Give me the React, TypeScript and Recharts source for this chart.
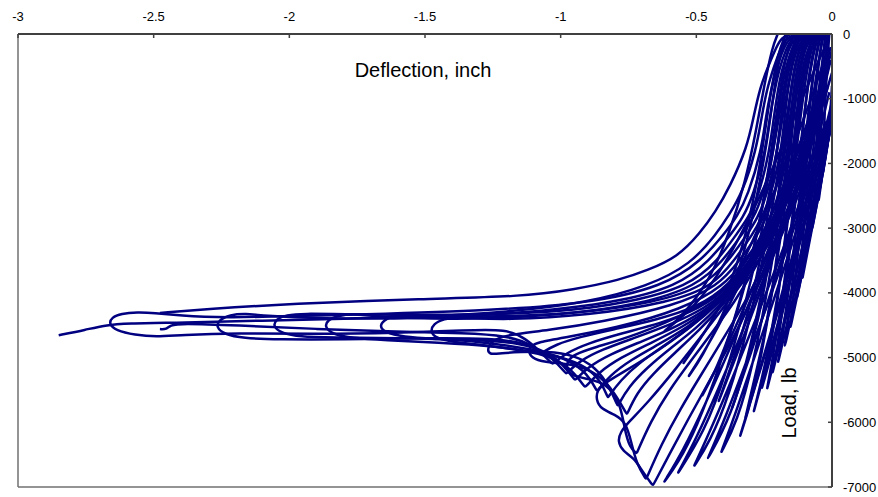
import React from "react";
import { LineChart, Line, XAxis, YAxis, ReferenceLine } from "recharts";

type P = [number, number | null];

const xTicks = [-3, -2.5, -2, -1.5, -1, -0.5, 0];
const yTicks = [0, -1000, -2000, -3000, -4000, -5000, -6000, -7000];

// post-peak cycles (loading, plateau loop, return, cusp, unloading arm)
const c01: P[] = [[-0.12,0],[-0.155,-50],[-0.18,-230],[-0.205,-540],[-0.225,-870],[-0.245,-1300],[-0.26,-1800],[-0.31,-2500],[-0.35,-2820],[-0.395,-3080],[-0.48,-3500],[-0.62,-3900],[-0.9,-4170],[-1.3,-4280],[-1.8,-4340],[-2.26,-4390],[-2.4,-4350],[-2.5,-4310],[-2.56,-4300],[-2.62,-4320],[-2.655,-4380],[-2.665,-4480],[-2.64,-4580],[-2.57,-4650],[-2.49,-4680],[-2.4,-4650],[-2.2,-4620],[-1.9,-4640],[-1.6,-4620],[-1.35,-4580],[-1.2,-4560],[-1.13,-4700],[-1.07,-4930],[-1.07,-4930],[-1.02,-4800],[-0.93,-4680],[-0.8,-4560],[-0.65,-4420],[-0.5,-4230],[-0.38,-3900],[-0.28,-3300],[-0.2,-2600],[-0.13,-1900],[-0.07,-1200],[-0.03,-600],[-0.005,-200]];
const c02: P[] = [[-0.15,0],[-0.185,-50],[-0.205,-200],[-0.235,-500],[-0.265,-820],[-0.29,-1300],[-0.313,-1750],[-0.376,-2360],[-0.43,-2750],[-0.487,-3080],[-0.57,-3450],[-0.68,-3650],[-0.78,-3800],[-0.95,-3950],[-1.15,-4060],[-1.5,-4090],[-2.0,-4170],[-2.3,-4250],[-2.477,-4310],[-2.477,null],[-2.477,-4560],[-2.452,-4565],[-2.44,-4500],[-2.4,-4470],[-2.2,-4500],[-1.9,-4560],[-1.6,-4600],[-1.35,-4620],[-1.2,-4660],[-1.1,-4800],[-1.03,-5100],[-1.03,-5100],[-0.98,-4930],[-0.9,-4780],[-0.78,-4630],[-0.63,-4470],[-0.49,-4250],[-0.37,-3900],[-0.27,-3300],[-0.19,-2600],[-0.12,-1900],[-0.065,-1200],[-0.025,-600],[0,-250]];
const c03: P[] = [[-0.13,0],[-0.165,-50],[-0.19,-220],[-0.215,-520],[-0.24,-850],[-0.26,-1300],[-0.28,-1800],[-0.33,-2450],[-0.38,-2800],[-0.424,-3080],[-0.52,-3560],[-0.68,-3900],[-0.9,-4150],[-1.2,-4300],[-1.5,-4370],[-1.8,-4400],[-2.1,-4430],[-2.4,-4460],[-2.6,-4470],[-2.68,-4500],[-2.75,-4570],[-2.85,-4655]];
const c04: P[] = [[-0.11,0],[-0.145,-50],[-0.17,-230],[-0.195,-550],[-0.212,-880],[-0.23,-1300],[-0.245,-1800],[-0.29,-2500],[-0.33,-2850],[-0.37,-3080],[-0.45,-3500],[-0.57,-3900],[-0.8,-4150],[-1.1,-4300],[-1.5,-4400],[-1.9,-4400],[-2.1,-4350],[-2.16,-4320],[-2.22,-4340],[-2.26,-4420],[-2.27,-4530],[-2.24,-4640],[-2.17,-4700],[-2.05,-4720],[-1.8,-4720],[-1.5,-4700],[-1.25,-4700],[-1.12,-4780],[-1.03,-5000],[-0.98,-5250],[-0.98,-5250],[-0.93,-5050],[-0.85,-4880],[-0.73,-4700],[-0.6,-4500],[-0.47,-4250],[-0.36,-3880],[-0.26,-3300],[-0.18,-2580],[-0.11,-1850],[-0.06,-1150],[-0.02,-550]];
const c05: P[] = [[-0.10,0],[-0.135,-50],[-0.16,-230],[-0.185,-550],[-0.2,-880],[-0.215,-1300],[-0.23,-1800],[-0.27,-2500],[-0.31,-2850],[-0.35,-3080],[-0.42,-3500],[-0.53,-3900],[-0.75,-4150],[-1.0,-4300],[-1.4,-4350],[-1.8,-4330],[-1.95,-4320],[-2.01,-4340],[-2.05,-4410],[-2.06,-4520],[-2.03,-4620],[-1.96,-4680],[-1.85,-4690],[-1.6,-4700],[-1.35,-4720],[-1.15,-4760],[-1.02,-4950],[-0.947,-5350],[-0.947,-5350],[-0.9,-5150],[-0.82,-4950],[-0.7,-4750],[-0.57,-4520],[-0.45,-4230],[-0.35,-3850],[-0.25,-3250],[-0.17,-2550],[-0.1,-1800],[-0.05,-1100],[-0.015,-500]];
const c06: P[] = [[-0.09,0],[-0.125,-50],[-0.15,-230],[-0.172,-550],[-0.187,-880],[-0.2,-1300],[-0.215,-1800],[-0.255,-2500],[-0.29,-2850],[-0.33,-3080],[-0.40,-3500],[-0.50,-3900],[-0.7,-4170],[-1.0,-4350],[-1.4,-4420],[-1.72,-4360],[-1.76,-4320],[-1.82,-4350],[-1.86,-4420],[-1.87,-4530],[-1.84,-4640],[-1.77,-4700],[-1.65,-4730],[-1.45,-4770],[-1.25,-4820],[-1.07,-4930],[-0.97,-5120],[-0.91,-5460],[-0.91,-5460],[-0.86,-5230],[-0.78,-5000],[-0.67,-4780],[-0.55,-4530],[-0.44,-4220],[-0.34,-3800],[-0.24,-3200],[-0.16,-2500],[-0.095,-1750],[-0.045,-1050],[-0.01,-450]];
const c07: P[] = [[-0.08,0],[-0.115,-50],[-0.14,-230],[-0.16,-550],[-0.175,-880],[-0.188,-1300],[-0.2,-1800],[-0.24,-2500],[-0.275,-2850],[-0.31,-3080],[-0.38,-3500],[-0.47,-3900],[-0.65,-4150],[-0.95,-4330],[-1.3,-4380],[-1.55,-4340],[-1.6,-4330],[-1.64,-4390],[-1.67,-4500],[-1.65,-4610],[-1.58,-4680],[-1.47,-4710],[-1.3,-4750],[-1.12,-4860],[-0.98,-5000],[-0.9,-5250],[-0.866,-5520],[-0.866,-5520],[-0.82,-5280],[-0.74,-5030],[-0.64,-4800],[-0.53,-4530],[-0.43,-4200],[-0.33,-3750],[-0.235,-3150],[-0.155,-2450],[-0.09,-1700],[-0.04,-1000],[-0.008,-420]];
const c08: P[] = [[-0.07,0],[-0.105,-50],[-0.13,-230],[-0.15,-550],[-0.163,-880],[-0.175,-1300],[-0.187,-1800],[-0.225,-2500],[-0.26,-2850],[-0.29,-3080],[-0.36,-3500],[-0.44,-3900],[-0.6,-4150],[-0.9,-4350],[-1.2,-4420],[-1.38,-4380],[-1.43,-4400],[-1.47,-4480],[-1.48,-4600],[-1.46,-4700],[-1.4,-4760],[-1.3,-4800],[-1.15,-4880],[-1.0,-4980],[-0.9,-5150],[-0.85,-5380],[-0.826,-5620],[-0.826,-5620],[-0.78,-5350],[-0.71,-5080],[-0.62,-4820],[-0.52,-4530],[-0.42,-4180],[-0.32,-3700],[-0.23,-3100],[-0.15,-2400],[-0.085,-1650],[-0.035,-950],[-0.005,-400]];
const c09: P[] = [[-0.06,0],[-0.095,-50],[-0.12,-230],[-0.14,-550],[-0.152,-880],[-0.163,-1300],[-0.175,-1800],[-0.21,-2500],[-0.245,-2850],[-0.27,-3080],[-0.34,-3500],[-0.42,-3900],[-0.58,-4200],[-0.85,-4450],[-1.05,-4580],[-1.2,-4650],[-1.25,-4730],[-1.27,-4850],[-1.265,-4960],[-1.22,-4930],[-1.15,-4915],[-1.05,-4900],[-0.95,-4960],[-0.87,-5150],[-0.82,-5450],[-0.79,-5750],[-0.79,-5750],[-0.75,-5450],[-0.68,-5150],[-0.6,-4870],[-0.5,-4550],[-0.41,-4180],[-0.31,-3680],[-0.22,-3050],[-0.145,-2350],[-0.08,-1600],[-0.03,-900]];
const c10: P[] = [[-0.05,0],[-0.085,-50],[-0.11,-230],[-0.13,-550],[-0.142,-880],[-0.152,-1300],[-0.163,-1800],[-0.195,-2500],[-0.23,-2850],[-0.25,-3080],[-0.32,-3500],[-0.40,-3900],[-0.55,-4250],[-0.8,-4550],[-1.0,-4700],[-1.08,-4760],[-1.11,-4820],[-1.12,-4920],[-1.1,-5030],[-1.04,-5080],[-0.95,-5100],[-0.86,-5250],[-0.8,-5550],[-0.756,-5880],[-0.756,-5880],[-0.72,-5550],[-0.66,-5250],[-0.58,-4930],[-0.49,-4580],[-0.4,-4180],[-0.3,-3650],[-0.215,-3000],[-0.14,-2300],[-0.075,-1550],[-0.025,-850]];
const c11: P[] = [[-0.04,0],[-0.075,-50],[-0.1,-230],[-0.12,-550],[-0.132,-880],[-0.142,-1300],[-0.152,-1800],[-0.18,-2500],[-0.215,-2850],[-0.235,-3080],[-0.30,-3500],[-0.38,-3900],[-0.52,-4300],[-0.72,-4650],[-0.88,-4850],[-0.95,-4950],[-0.975,-5050],[-0.98,-5180],[-0.96,-5280],[-0.9,-5330],[-0.83,-5400],[-0.78,-5700],[-0.765,-6100],[-0.745,-6400],[-0.72,-6480],[-0.72,-6480],[-0.67,-6000],[-0.6,-5500],[-0.52,-5050],[-0.44,-4600],[-0.36,-4150],[-0.28,-3600],[-0.2,-2950],[-0.13,-2250],[-0.07,-1500],[-0.02,-800]];
const c12: P[] = [[-0.03,0],[-0.065,-50],[-0.09,-230],[-0.11,-550],[-0.122,-880],[-0.132,-1300],[-0.142,-1800],[-0.17,-2500],[-0.2,-2850],[-0.22,-3080],[-0.28,-3500],[-0.36,-3900],[-0.48,-4400],[-0.64,-4900],[-0.78,-5250],[-0.84,-5400],[-0.865,-5500],[-0.87,-5650],[-0.85,-5800],[-0.8,-5880],[-0.76,-6000],[-0.74,-6300],[-0.72,-6650],[-0.685,-6880],[-0.685,-6880],[-0.63,-6350],[-0.56,-5800],[-0.48,-5250],[-0.4,-4700],[-0.32,-4150],[-0.25,-3550],[-0.18,-2900],[-0.12,-2200],[-0.065,-1500],[-0.02,-850]];
const c13: P[] = [[-0.02,0],[-0.055,-50],[-0.08,-230],[-0.1,-550],[-0.112,-880],[-0.122,-1300],[-0.132,-1800],[-0.16,-2500],[-0.19,-2850],[-0.21,-3080],[-0.27,-3500],[-0.34,-3900],[-0.45,-4500],[-0.58,-5200],[-0.68,-5700],[-0.75,-6000],[-0.78,-6150],[-0.79,-6300],[-0.77,-6450],[-0.73,-6550],[-0.7,-6750],[-0.66,-6980],[-0.66,-6980],[-0.6,-6500],[-0.53,-5950],[-0.45,-5350],[-0.37,-4750],[-0.3,-4150],[-0.23,-3500],[-0.17,-2850],[-0.11,-2150],[-0.06,-1450],[-0.015,-800]];

// pre-peak cycles (loading to peak, unloading)
const p01: P[] = [[-0.12,0],[-0.15,-200],[-0.18,-900],[-0.22,-1900],[-0.27,-3000],[-0.33,-4000],[-0.41,-5100],[-0.5,-6100],[-0.57,-6650],[-0.62,-6930],[-0.62,-6930],[-0.55,-6450],[-0.47,-5750],[-0.38,-4900],[-0.29,-4000],[-0.2,-3150],[-0.13,-2450],[-0.07,-1850],[-0.02,-1350]];
const p02: P[] = [[-0.11,0],[-0.14,-250],[-0.17,-1000],[-0.21,-2000],[-0.26,-3100],[-0.32,-4200],[-0.39,-5250],[-0.47,-6150],[-0.57,-6800],[-0.57,-6800],[-0.5,-6250],[-0.42,-5500],[-0.33,-4600],[-0.25,-3750],[-0.17,-2950],[-0.1,-2250],[-0.05,-1700],[-0.01,-1300]];
const p03: P[] = [[-0.1,0],[-0.13,-300],[-0.16,-1100],[-0.2,-2200],[-0.25,-3400],[-0.31,-4550],[-0.38,-5600],[-0.45,-6300],[-0.51,-6690],[-0.51,-6690],[-0.44,-6050],[-0.36,-5250],[-0.28,-4400],[-0.2,-3550],[-0.13,-2750],[-0.07,-2050],[-0.02,-1450]];
const p04: P[] = [[-0.09,0],[-0.12,-300],[-0.15,-1150],[-0.19,-2300],[-0.24,-3600],[-0.3,-4850],[-0.37,-5900],[-0.46,-6580],[-0.46,-6580],[-0.39,-5900],[-0.31,-5000],[-0.23,-4100],[-0.16,-3250],[-0.1,-2500],[-0.05,-1850],[-0.01,-1400]];
const p05: P[] = [[-0.08,0],[-0.11,-350],[-0.14,-1200],[-0.18,-2400],[-0.23,-3800],[-0.29,-5100],[-0.35,-6000],[-0.41,-6480],[-0.41,-6480],[-0.35,-5800],[-0.27,-4800],[-0.19,-3800],[-0.12,-2900],[-0.07,-2200],[-0.02,-1500]];
const p06: P[] = [[-0.07,0],[-0.1,-400],[-0.13,-1300],[-0.17,-2600],[-0.22,-4000],[-0.27,-5200],[-0.31,-5850],[-0.34,-6230],[-0.34,-6230],[-0.28,-5400],[-0.21,-4450],[-0.14,-3450],[-0.08,-2550],[-0.035,-1800],[0,-1300]];
const p07: P[] = [[-0.06,0],[-0.09,-450],[-0.12,-1400],[-0.16,-2800],[-0.2,-4100],[-0.25,-5200],[-0.29,-5860],[-0.29,-5860],[-0.23,-4950],[-0.16,-3850],[-0.1,-2900],[-0.05,-2100],[-0.01,-1450]];
const p08: P[] = [[-0.05,0],[-0.08,-500],[-0.11,-1500],[-0.15,-3000],[-0.19,-4300],[-0.22,-5050],[-0.24,-5500],[-0.24,-5500],[-0.18,-4500],[-0.12,-3500],[-0.07,-2600],[-0.03,-1900],[0,-1400]];
const p09: P[] = [[-0.04,0],[-0.07,-550],[-0.1,-1700],[-0.13,-3000],[-0.17,-4300],[-0.2,-5100],[-0.2,-5100],[-0.15,-4200],[-0.1,-3300],[-0.06,-2500],[-0.025,-1800],[0,-1300]];
const p10: P[] = [[-0.03,0],[-0.06,-600],[-0.09,-1800],[-0.12,-3200],[-0.155,-4570],[-0.155,-4570],[-0.11,-3700],[-0.07,-2850],[-0.035,-2100],[-0.005,-1450]];
const p11: P[] = [[-0.02,0],[-0.045,-650],[-0.07,-1800],[-0.09,-2900],[-0.11,-3800],[-0.11,-3800],[-0.075,-3030],[-0.045,-2400],[-0.015,-1700],[0,-1200]];
const p12: P[] = [[-0.015,0],[-0.035,-700],[-0.055,-1900],[-0.074,-3030],[-0.074,-3030],[-0.04,-2300],[-0.01,-1600],[0,-1000]];
const p13: P[] = [[-0.01,0],[-0.02,-600],[-0.03,-1500],[-0.035,-2200],[-0.035,-2200],[-0.01,-1500],[0,-800]];

// further small cycles filling the dense stiff region
const q01: P[] = [[-0.17,0],[-0.2,-300],[-0.23,-1000],[-0.26,-1900],[-0.3,-2800],[-0.35,-3600],[-0.42,-4300],[-0.5,-4800],[-0.55,-5100],[-0.55,-5100],[-0.45,-4500],[-0.36,-3800],[-0.27,-3000],[-0.19,-2200],[-0.12,-1500],[-0.06,-800],[-0.02,-300]];
const q02: P[] = [[-0.16,0],[-0.19,-250],[-0.215,-900],[-0.24,-1700],[-0.28,-2600],[-0.33,-3500],[-0.4,-4350],[-0.48,-5000],[-0.53,-5300],[-0.53,-5300],[-0.44,-4700],[-0.35,-3950],[-0.26,-3150],[-0.18,-2350],[-0.11,-1600],[-0.05,-900],[-0.01,-400]];
const q03: P[] = [[-0.14,0],[-0.17,-300],[-0.2,-1100],[-0.23,-2000],[-0.27,-3000],[-0.32,-3900],[-0.38,-4700],[-0.44,-5300],[-0.48,-5600],[-0.48,-5600],[-0.4,-4950],[-0.31,-4100],[-0.23,-3300],[-0.16,-2500],[-0.1,-1750],[-0.05,-1000],[-0.01,-450]];
const q04: P[] = [[-0.12,0],[-0.155,-350],[-0.185,-1200],[-0.215,-2200],[-0.25,-3200],[-0.3,-4200],[-0.36,-5000],[-0.42,-5700],[-0.42,-5700],[-0.35,-4950],[-0.27,-4050],[-0.2,-3250],[-0.13,-2450],[-0.08,-1800],[-0.035,-1100],[0,-600]];
const q05: P[] = [[-0.1,0],[-0.135,-400],[-0.165,-1300],[-0.195,-2400],[-0.23,-3500],[-0.27,-4400],[-0.32,-5200],[-0.37,-5800],[-0.37,-5800],[-0.3,-4950],[-0.23,-4050],[-0.16,-3150],[-0.1,-2350],[-0.05,-1600],[-0.01,-900]];
const q06: P[] = [[-0.085,0],[-0.12,-450],[-0.15,-1400],[-0.18,-2600],[-0.21,-3700],[-0.25,-4700],[-0.29,-5400],[-0.32,-5950],[-0.32,-5950],[-0.26,-5100],[-0.19,-4100],[-0.13,-3200],[-0.08,-2400],[-0.035,-1650],[0,-1050]];
const q07: P[] = [[-0.07,0],[-0.1,-500],[-0.13,-1500],[-0.16,-2700],[-0.19,-3800],[-0.22,-4700],[-0.26,-5500],[-0.26,-5500],[-0.2,-4600],[-0.14,-3600],[-0.09,-2750],[-0.045,-2000],[-0.01,-1350]];
const q08: P[] = [[-0.055,0],[-0.085,-550],[-0.11,-1600],[-0.14,-2800],[-0.17,-3900],[-0.2,-4800],[-0.22,-5250],[-0.22,-5250],[-0.17,-4400],[-0.12,-3500],[-0.075,-2700],[-0.035,-1950],[0,-1350]];
const q09: P[] = [[-0.045,0],[-0.07,-600],[-0.095,-1700],[-0.12,-2900],[-0.15,-4000],[-0.175,-4850],[-0.175,-4850],[-0.13,-4000],[-0.09,-3150],[-0.05,-2350],[-0.015,-1600]];
const q10: P[] = [[-0.035,0],[-0.055,-650],[-0.08,-1800],[-0.1,-2900],[-0.13,-4100],[-0.13,-4100],[-0.095,-3400],[-0.06,-2650],[-0.03,-1950],[0,-1300]];
const q11: P[] = [[-0.025,0],[-0.04,-700],[-0.06,-1800],[-0.08,-2800],[-0.095,-3400],[-0.095,-3400],[-0.06,-2700],[-0.03,-2000],[0,-1300]];
const q12: P[] = [[-0.015,0],[-0.025,-500],[-0.04,-1300],[-0.05,-2600],[-0.05,-2600],[-0.03,-2000],[-0.005,-1400]];
const q13: P[] = [[-0.2,0],[-0.22,-200],[-0.25,-800],[-0.28,-1500],[-0.32,-2300],[-0.38,-3100],[-0.45,-3800],[-0.55,-4350],[-0.62,-4600],[-0.62,-4600],[-0.5,-4200],[-0.4,-3600],[-0.31,-2900],[-0.22,-2100],[-0.14,-1300],[-0.07,-600],[-0.02,-150]];

const cycles: P[][] = [
  c01, c02, c03, c04, c05, c06, c07, c08, c09, c10, c11, c12, c13,
  p01, p02, p03, p04, p05, p06, p07, p08, p09, p10, p11, p12, p13,
  q01, q02, q03, q04, q05, q06, q07, q08, q09, q10, q11, q12, q13,
];

const toPts = (a: P[]) => a.map(([x, y]) => ({ x, y }));

const FONT = "Arial, 'Liberation Sans', sans-serif";

const XTick = (props: any) => {
  const { x, y, payload } = props;
  return (
    <g>
      <line x1={x} y1={y} x2={x} y2={y + 4} stroke="#404040" strokeWidth={1.5} />
      <text x={x} y={y - 13.5} textAnchor="middle" fontSize={13} fontFamily={FONT} fill="#000">
        {String(payload.value)}
      </text>
    </g>
  );
};

const YTick = (props: any) => {
  const { x, y, payload } = props;
  return (
    <g>
      <line x1={x} y1={y} x2={x - 4} y2={y} stroke="#404040" strokeWidth={1.5} />
      <text x={x + 11} y={y + 4.6} textAnchor="start" fontSize={13} fontFamily={FONT} fill="#000">
        {String(payload.value)}
      </text>
    </g>
  );
};

export default function App() {
  return (
    <div style={{ position: "absolute", left: 0, top: 0, width: 878, height: 497, overflow: "hidden" }}>
      <style>{"body{margin:0;overflow:hidden} .recharts-surface{overflow:visible}"}</style>
      <LineChart
        width={878}
        height={497}
        margin={{ top: 8, right: 0, bottom: 10, left: 18 }}
      >
        <XAxis
          type="number"
          dataKey="x"
          orientation="top"
          domain={[-3, 0]}
          ticks={xTicks}
          interval={0}
          height={26}
          tickSize={0}
          tickMargin={0}
          tickLine={false}
          axisLine={{ stroke: "#404040", strokeWidth: 2 }}
          tick={<XTick />}
          allowDataOverflow
        />
        <YAxis
          type="number"
          orientation="right"
          domain={[-7000, 0]}
          ticks={yTicks}
          interval={0}
          width={46}
          tickSize={0}
          tickMargin={0}
          tickLine={false}
          axisLine={{ stroke: "#404040", strokeWidth: 2 }}
          tick={<YTick />}
          allowDataOverflow
        />
        <ReferenceLine x={-3} stroke="#707070" strokeWidth={1.5} />
        <ReferenceLine y={-7000} stroke="#707070" strokeWidth={1.5} />
        {cycles.map((c, i) => (
          <Line
            key={i}
            data={toPts(c)}
            dataKey="y"
            type="basis"
            stroke="#000080"
            strokeWidth={2.5}
            dot={false}
            activeDot={false}
            isAnimationActive={false}
            connectNulls={false}
          />
        ))}
      </LineChart>
      <div
        style={{
          position: "absolute",
          left: 323,
          top: 60,
          width: 200,
          textAlign: "center",
          fontFamily: FONT,
          fontSize: 20,
          lineHeight: "20px",
          color: "#000",
          whiteSpace: "nowrap",
        }}
      >
        Deflection, inch
      </div>
      <div
        style={{
          position: "absolute",
          left: 739,
          top: 393,
          width: 100,
          height: 20,
          textAlign: "center",
          fontFamily: FONT,
          fontSize: 20,
          lineHeight: "20px",
          color: "#000",
          whiteSpace: "nowrap",
          transform: "rotate(-90deg)",
        }}
      >
        Load, lb
      </div>
    </div>
  );
}
